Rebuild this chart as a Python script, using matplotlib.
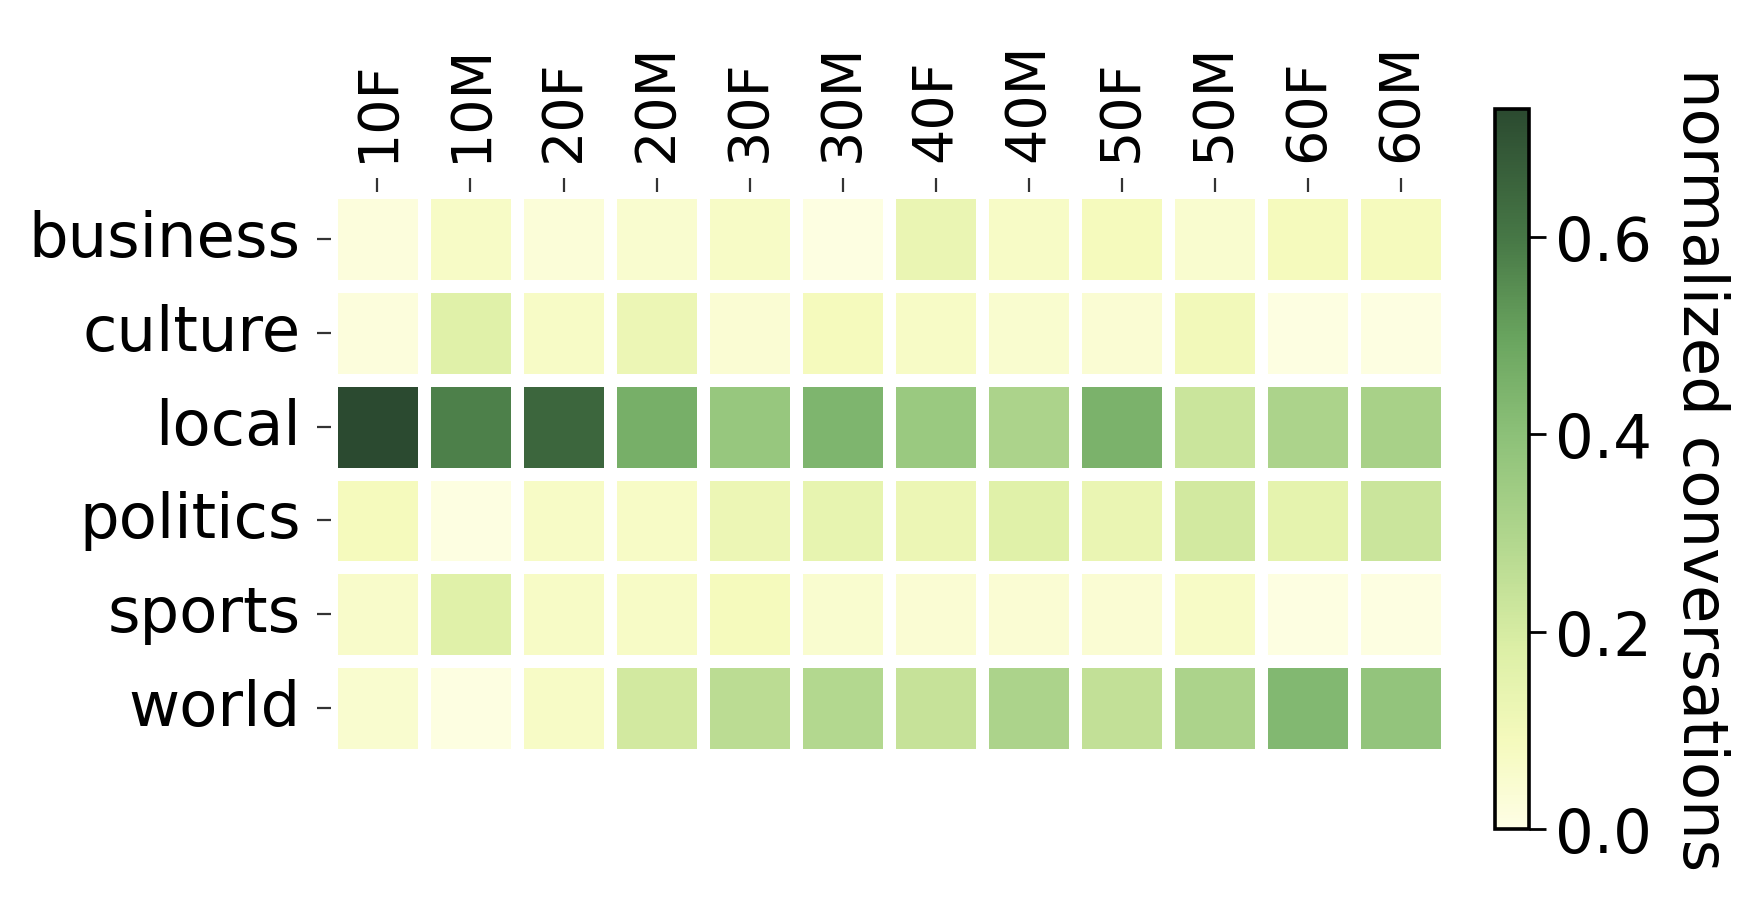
import numpy as np
import pandas as pd
import matplotlib.pyplot as plt
import seaborn as sns
from matplotlib.colors import LinearSegmentedColormap

groups = ['10F', '10M', '20F', '20M', '30F', '30M', '40F', '40M', '50F', '50M', '60F', '60M']
topics = ['business', 'culture', 'local', 'politics', 'sports', 'world']

business = [0.02, 0.07, 0.03, 0.05, 0.07, 0.01, 0.13, 0.07, 0.09, 0.05, 0.09, 0.09]
culture = [0.02, 0.17, 0.07, 0.12, 0.04, 0.09, 0.07, 0.05, 0.04, 0.10, 0.01, 0.01]
local = [0.73, 0.58, 0.65, 0.46, 0.37, 0.44, 0.36, 0.31, 0.45, 0.23, 0.31, 0.32]
politics = [0.09, 0.01, 0.07, 0.07, 0.12, 0.14, 0.12, 0.17, 0.13, 0.21, 0.15, 0.23]
sports = [0.06, 0.17, 0.07, 0.07, 0.09, 0.05, 0.04, 0.04, 0.04, 0.07, 0.01, 0.01]
world = [0.05, 0.01, 0.07, 0.21, 0.27, 0.29, 0.24, 0.31, 0.25, 0.31, 0.43, 0.38]

df = pd.DataFrame([business, culture, local, politics, sports, world],
                  index=topics, columns=groups)

# yellow -> dark green, similar to YlGn but ending in a muted dark green
cmap = LinearSegmentedColormap.from_list('ylgn_dark', [
    (0.00, '#fefee5'),
    (0.12, '#f5fabd'),
    (0.25, '#dcefa6'),
    (0.40, '#b2d78e'),
    (0.55, '#8cc078'),
    (0.68, '#6aa55f'),
    (0.82, '#477846'),
    (1.00, '#2b4a30'),
])

W, H = 1765, 903
fig = plt.figure(figsize=(W / 200, H / 200), dpi=200)
ax = fig.add_axes([331 / W, 1 - 756 / H, (1447 - 331) / W, (756 - 193) / H])
cax = fig.add_axes([1495 / W, 1 - 830 / H, (1529 - 1495) / W, (830 - 110) / H])

sns.heatmap(df, cmap=cmap, vmin=0, linewidths=4.5, linecolor='white',
            ax=ax, cbar_ax=cax, cbar_kws={'ticks': [0.0, 0.2, 0.4, 0.6]})

ax.xaxis.tick_top()
ax.set_xticklabels(groups, rotation=90, fontsize=20)
ax.set_yticklabels(topics, rotation=0, fontsize=22.5)
ax.tick_params(axis='both', length=5, width=0.8, color='#333333', pad=6)

cb = ax.collections[0].colorbar
cb.outline.set_visible(True)
cb.outline.set_linewidth(1.3)
cb.outline.set_edgecolor('black')
cb.ax.tick_params(labelsize=22, length=6, width=1)
cb.ax.yaxis.set_major_formatter(plt.FormatStrFormatter('%.1f'))
cb.set_label('normalized conversations', rotation=270, fontsize=22.5, labelpad=28)

fig.savefig('out.png', dpi=200)
